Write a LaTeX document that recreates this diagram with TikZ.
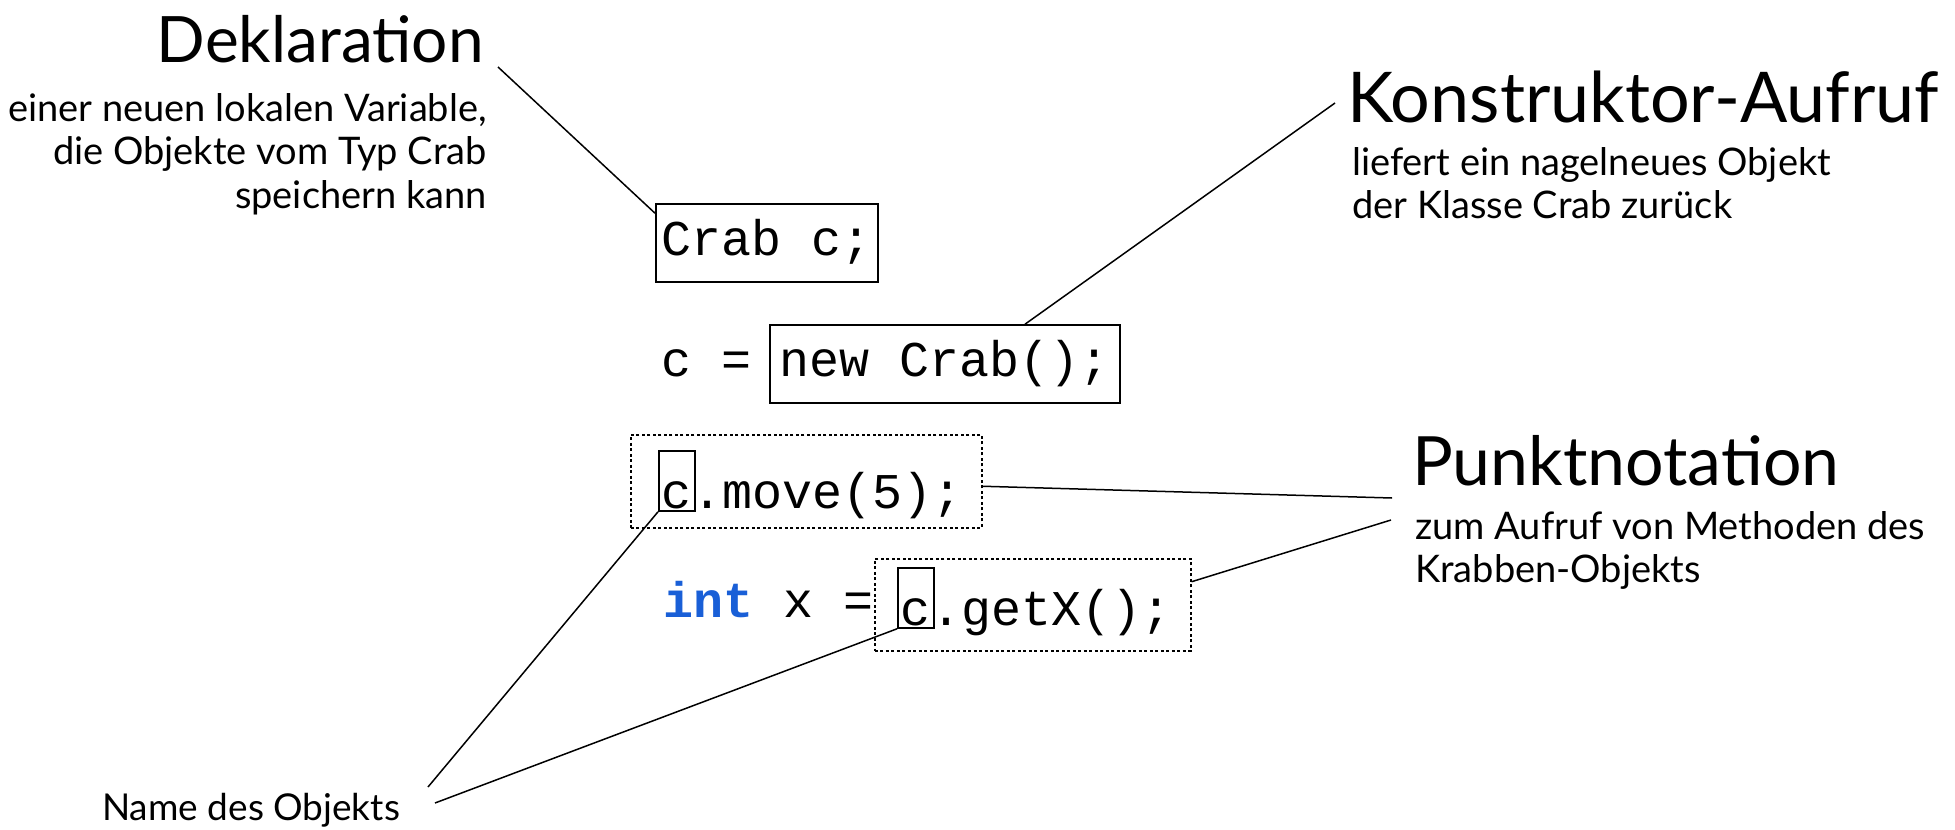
\documentclass[tikz,border=0pt]{standalone}
\usepackage{fontspec}
\setmainfont{Lato}
\newfontfamily\codefont{Liberation Mono}
\definecolor{kwblue}{RGB}{25,95,215}
\begin{document}
\begin{tikzpicture}[x=1pt,y=-1pt,
  head/.style={font=\fontsize{68}{72}\selectfont, inner sep=0pt},
  subtxt/.style={font=\fontsize{38}{43.5}\selectfont, inner sep=0pt},
  code/.style={font=\codefont\fontsize{50}{52}\selectfont, inner sep=0pt},
  codebox/.style={code, draw, line width=1.6pt, inner ysep=0pt, text height=51pt, text depth=27pt},
  cbox/.style={code, draw, line width=1.6pt, inner xsep=3pt, inner ysep=0pt, text height=57pt, text depth=3pt},
  dotbox/.style={draw, line width=1.5pt, dash pattern=on 3pt off 2.5pt, inner sep=0pt},
  conn/.style={draw, line width=1.5pt}
]
\useasboundingbox (0,0) rectangle (1955,830);

% headings and explanations
\node[head, anchor=base east, font=\fontsize{64}{68}\selectfont] (dekl) at (484,62) {Deklaration};
\node[subtxt, anchor=north east, align=right] (dekltxt) at (487,93)
  {einer neuen lokalen Variable,\\die Objekte vom Typ Crab\\speichern kann};
\node[head, anchor=base west, font=\fontsize{70}{74}\selectfont] (kons) at (1347,122) {Konstruktor-Aufruf};
\node[subtxt, anchor=north west, align=left] (konstxt) at (1352,147)
  {liefert ein nagelneues Objekt\\der Klasse Crab zurück};
\node[head, anchor=base west] (punkt) at (1412,485) {Punktnotation};
\node[subtxt, anchor=north west, align=left] (punkttxt) at (1415,511)
  {zum Aufruf von Methoden des\\Krabben-Objekts};
\node[subtxt, anchor=base west, font=\fontsize{37}{42}\selectfont] (name) at (102,820) {Name des Objekts};

% code
\node[codebox, inner xsep=6pt, anchor=base west] (crab) at (655,255) {Crab c;};
\node[code, anchor=base west] (ceq) at (661,376) {c =};
\node[codebox, inner xsep=10pt, anchor=base west] (newbox) at (769,376) {new Crab();};
\node[cbox, anchor=base west] (c1) at (658,508) {c};
\node[code, anchor=base west, xshift=-3pt] (move) at (c1.base east) {.move(5);};
\node[dotbox, anchor=north west, minimum width=351pt, minimum height=93pt] (d1) at (630,434) {};
\node[code, anchor=base west] (intx) at (663,617) {{\color{kwblue}\bfseries int} x =};
\node[cbox, anchor=base west] (c2) at (897,625) {c};
\node[code, anchor=base west, xshift=-3pt] (getx) at (c2.base east) {.getX();};
\node[dotbox, anchor=north west, minimum width=316pt, minimum height=92pt] (d2) at (874,558) {};

% connectors
\draw[conn] ([xshift=14pt,yshift=-5pt]dekl.base east) -- ([yshift=-10pt]crab.north west);
\draw[conn] ([xshift=-12pt,yshift=19pt]kons.base west) -- ([xshift=256pt]newbox.north west);
\draw[conn] ([yshift=-5pt]d1.east) -- ([xshift=-20pt,yshift=-13pt]punkt.base west);
\draw[conn] ([yshift=23pt]d2.east) -- ([xshift=-21pt,yshift=-35pt]punkt.base west);
\draw[conn] ([xshift=326pt,yshift=33pt]name.base west) -- (c1.south west);
\draw[conn] ([xshift=333pt,yshift=17pt]name.base west) -- (c2.south west);
\end{tikzpicture}
\end{document}
